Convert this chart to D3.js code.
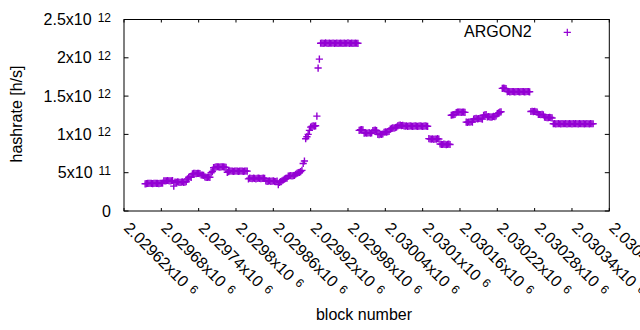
<!DOCTYPE html>
<html>
<head>
<meta charset="utf-8">
<script src="https://cdn.jsdelivr.net/npm/d3@7"></script>
<style>
  body { margin: 0; background: #fff; }
  text { font-family: "Liberation Sans", Arial, sans-serif; fill: #000; }
</style>
</head>
<body>
<svg id="chart" width="640" height="330"></svg>
<script>
// hashrate per block (every 2nd block), in GH/s
const firstBlock = 2029654;
const blockStep = 2;
const hashrateGH = [
  355,358,360,360,362,360,358,360,362,360,360,358,360,362,365,
  395,392,395,398,395,392,395,398,
  325,
  378,375,380,378,372,378,380,375,378,382,
  420,440,445,440,
  485,490,492,488,490,492,488,
  470,468,465,445,440,438,442,440,
  500,515,
  565,570,575,578,575,572,575,578,575,572,570,
  505,515,520,522,520,518,520,522,520,518,520,522,520,518,520,522,520,
  420,428,425,422,428,425,420,425,428,425,422,425,428,425,
  392,388,390,392,388,390,392,388,385,390,
  345,
  375,385,395,405,415,425,430,
  455,460,462,458,462,465,
  480,490,500,505,515,530,
  620,653,
  944,970,1000,1052,
  1095,1105,1110,1108,1112,
  1238,
  1866,
  1983,
  2190,2192,2188,2190,2194,2190,2188,2192,2190,2190,2193,2189,2190,2192,2188,2190,
  2191,2190,2188,2192,2190,2190,2194,2189,2190,2192,2188,2190,2191,2190,2189,
  1052,
  1060,1062,1058,
  1017,1020,1015,1018,1022,1015,1020,
  1048,1052,1055,1050,
  1000,998,1002,1000,1005,
  1028,1032,1030,1035,1040,
  1070,1080,1085,1082,1088,1095,
  1112,1117,1120,1115,1118,1112,
  1108,1110,1106,1108,1112,1108,1105,1108,1110,1108,1106,1108,1110,1108,1105,1108,1110,1108,1106,
  945,940,938,942,935,940,938,945,940,
  875,870,868,872,870,865,870,872,868,
  1250,1255,1258,1262,
  1285,1290,1292,1290,1288,1292,1290,1288,
  1160,1158,1162,1160,1165,1160,
  1200,1205,1208,1202,1205,1210,1204,1200,
  1250,1255,1258,
  1228,1232,1230,1225,1230,1235,1232,1240,
  1270,1280,1290,1295,
  1601,1605,1600,1598,
  1558,1560,1556,1558,1560,1558,1555,1558,1560,1558,1556,1558,1560,1558,1555,1558,1560,1558,1556,
  1299,1302,1298,1300,1296,1290,
  1262,1260,1258,1262,1255,
  1225,1222,1220,1218,1222,1220,1215,
  1139,1140,1138,1139,1141,1139,1138,1140,1139,1139,1141,1138,1139,1140,1139,1138,1140,
  1139,1141,1139,1138,1140,1139,1139,1141,1138,1139,1140,1139,1138,1140,1139,1139
];

const seriesName = "ARGON2";
const xTicks = [2029620, 2029680, 2029740, 2029800, 2029860, 2029920, 2029980,
                2030040, 2030100, 2030160, 2030220, 2030280, 2030340, 2030400];
const yTicks = [0, 5e11, 1e12, 1.5e12, 2e12, 2.5e12];
const xLabel = "block number";
const yLabel = "hashrate [h/s]";

const data = hashrateGH.map((v, i) => ({ block: firstBlock + i * blockStep, rate: v * 1e9 }));

const svg = d3.select("#chart");
const margin = { left: 124, right: 30.7, top: 19.5, bottom: 119 };
const W = 640, H = 330;

const x = d3.scaleLinear().domain([2029620, 2030400]).range([margin.left, W - margin.right]);
const y = d3.scaleLinear().domain([0, 2.5e12]).range([H - margin.bottom, margin.top]);

const color = "#9400d3";

// split a number into gnuplot-like "m x10^e" parts
function sci(v) {
  if (v === 0) return ["0", null];
  const e = Math.floor(Math.log10(Math.abs(v)) + 1e-9);
  const m = +(v / Math.pow(10, e)).toFixed(6);
  return [m + "x10", String(e)];
}

// border box
svg.append("rect")
  .attr("x", x.range()[0]).attr("y", y.range()[1])
  .attr("width", x.range()[1] - x.range()[0])
  .attr("height", y.range()[0] - y.range()[1])
  .attr("fill", "none").attr("stroke", "#000").attr("stroke-width", 1);

// y ticks (both sides)
const yt = svg.append("g");
yTicks.forEach(t => {
  const py = y(t);
  yt.append("line").attr("x1", x.range()[0]).attr("x2", x.range()[0] + 4.5)
    .attr("y1", py).attr("y2", py).attr("stroke", "#000");
  yt.append("line").attr("x1", x.range()[1]).attr("x2", x.range()[1] - 4.5)
    .attr("y1", py).attr("y2", py).attr("stroke", "#000");
  const [m, e] = sci(t);
  const txt = yt.append("text").attr("x", 111).attr("y", py + 5.5)
    .attr("text-anchor", "end").style("font-size", "16px");
  txt.append("tspan").text(m);
  if (e) txt.append("tspan").attr("dx", 6).attr("dy", -3.5).style("font-size", "12px").text(e);
});

// x ticks (both sides) with rotated labels
const xt = svg.append("g");
xTicks.forEach(t => {
  const px = x(t);
  xt.append("line").attr("x1", px).attr("x2", px)
    .attr("y1", y.range()[0]).attr("y2", y.range()[0] - 3).attr("stroke", "#000");
  xt.append("line").attr("x1", px).attr("x2", px)
    .attr("y1", y.range()[1]).attr("y2", y.range()[1] + 3).attr("stroke", "#000");
  const [m, e] = sci(t);
  const txt = xt.append("text")
    .attr("transform", `translate(${px - 1},229) rotate(45)`)
    .style("font-size", "16px");
  txt.append("tspan").text(m);
  txt.append("tspan").attr("dx", 6).attr("dy", -3.5).style("font-size", "12px").text(e);
});

// axis titles
svg.append("text")
  .attr("transform", `translate(22,114) rotate(-90)`)
  .attr("text-anchor", "middle").style("font-size", "16px").text(yLabel);
svg.append("text")
  .attr("x", 364).attr("y", 320)
  .attr("text-anchor", "middle").style("font-size", "16px").text(xLabel);

// points as gnuplot "+" markers
const plus = "M-3.6,0H3.6M0,-3.6V3.6";
svg.append("g")
  .selectAll("path")
  .data(data)
  .enter()
  .append("path")
  .attr("d", plus)
  .attr("transform", d => `translate(${x(d.block)},${y(d.rate)})`)
  .attr("fill", "none")
  .attr("stroke", color)
  .attr("stroke-width", 1.4);

// legend
svg.append("text").attr("x", 531.7).attr("y", 37)
  .attr("text-anchor", "end").style("font-size", "16px").text(seriesName);
svg.append("path").attr("d", plus)
  .attr("transform", "translate(567.3,32.3)")
  .attr("fill", "none").attr("stroke", color).attr("stroke-width", 1.2);
</script>
</body>
</html>
